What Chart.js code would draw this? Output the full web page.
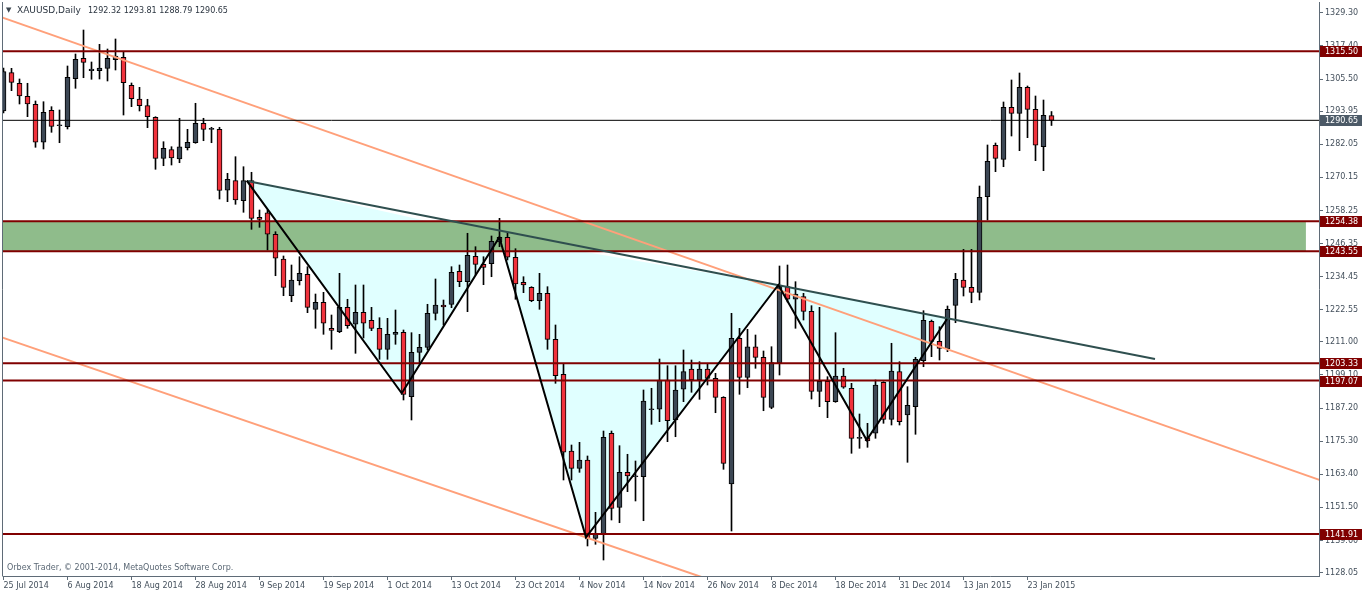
<!DOCTYPE html>
<html>
<head>
<meta charset="utf-8">
<title>XAUUSD Daily</title>
<script src="https://cdn.jsdelivr.net/npm/chart.js@4.4.1/dist/chart.umd.min.js"></script>
<style>
  body { margin: 0; background: #fff; }
  #wrap { position: relative; width: 1362px; height: 594px; overflow: hidden; }
  .txt { position: absolute; font-family: "DejaVu Sans", sans-serif; white-space: pre; line-height: 1; }
</style>
</head>
<body>
<div id="wrap">
  <canvas id="chart" width="1362" height="594"></canvas>
  <div class="txt" style="left:6px; top:7px; font-size:7px; color:#3c4650;">▼</div>
  <div class="txt" style="left:17px; top:6px; font-size:9px; color:#2b3540;">XAUUSD,Daily</div>
  <div class="txt" style="left:88px; top:7px; font-size:8px; color:#2b3540;">1292.32 1293.81 1288.79 1290.65</div>
  <div class="txt" style="left:7px; top:564px; font-size:8px; color:#5b6875;">Orbex Trader, © 2001-2014, MetaQuotes Software Corp.</div>
</div>
<script>
// daily candles, 25 Jul 2014 .. 28 Jan 2015 (bar index 0..131)
const opens = [
  1294.00, 1307.77, 1303.96, 1299.29, 1296.41, 1282.75, 1294.25, 1288.71, 1288.35, 1305.61,
  1312.95, 1308.49, 1308.49, 1309.35, 1312.44, 1313.31, 1303.24, 1298.31, 1295.91, 1291.73,
  1276.99, 1280.09, 1276.74, 1280.81, 1282.60, 1289.58, 1287.42, 1287.42, 1265.49, 1268.94,
  1261.75, 1268.94, 1255.78, 1257.43, 1249.67, 1240.79, 1227.59, 1232.98, 1235.28, 1222.70,
  1225.22, 1215.87, 1214.65, 1223.42, 1217.31, 1221.62, 1218.75, 1215.87, 1208.32, 1213.71,
  1214.43, 1191.28, 1207.24, 1209.04, 1221.26, 1224.25, 1224.50, 1236.36, 1232.63, 1241.76,
  1238.88, 1239.10, 1246.90, 1248.59, 1241.40, 1232.41, 1230.61, 1225.79, 1228.45, 1211.91,
  1199.33, 1171.75, 1165.53, 1168.52, 1140.36, 1141.80, 1178.12, 1151.51, 1164.09, 1162.51,
  1162.51, 1186.60, 1186.75, 1197.28, 1182.90, 1193.94, 1201.24, 1197.28, 1201.24, 1197.89,
  1191.06, 1159.89, 1212.27, 1198.25, 1209.25, 1205.44, 1187.39, 1203.29, 1230.83, 1226.30,
  1227.23, 1221.98, 1193.22, 1196.81, 1189.48, 1198.72, 1194.30, 1176.32, 1176.54, 1178.12,
  1196.45, 1183.15, 1200.27, 1184.70, 1187.68, 1204.22, 1218.39, 1211.19, 1208.54, 1224.14,
  1233.24, 1230.61, 1228.81, 1263.19, 1281.67, 1276.63, 1295.33, 1293.17, 1302.52, 1294.61,
  1281.16, 1292.32
];
const highs = [
  1309.46, 1309.35, 1305.51, 1303.96, 1297.60, 1297.34, 1295.55, 1294.36, 1310.18, 1314.49,
  1323.12, 1311.62, 1317.98, 1316.29, 1319.89, 1315.32, 1304.07, 1302.52, 1298.21, 1291.95,
  1282.96, 1281.16, 1291.38, 1287.42, 1296.77, 1291.38, 1288.14, 1288.14, 1271.60, 1277.57,
  1273.97, 1271.96, 1258.40, 1258.40, 1250.60, 1241.87, 1238.63, 1241.61, 1238.02, 1228.20,
  1228.81, 1220.65, 1235.64, 1226.30, 1231.44, 1231.44, 1223.42, 1219.68, 1219.46, 1222.45,
  1215.26, 1214.29, 1213.71, 1224.50, 1233.60, 1226.04, 1238.02, 1238.63, 1250.03, 1245.21,
  1241.61, 1249.06, 1255.42, 1250.24, 1244.49, 1234.42, 1230.83, 1235.64, 1230.83, 1217.06,
  1203.29, 1173.91, 1174.88, 1169.96, 1149.71, 1178.94, 1178.94, 1173.66, 1170.57, 1168.16,
  1193.69, 1194.30, 1204.83, 1202.42, 1202.42, 1208.07, 1204.47, 1203.86, 1203.29, 1199.69,
  1191.28, 1221.26, 1215.87, 1215.51, 1213.46, 1207.71, 1209.25, 1238.27, 1238.63, 1232.63,
  1228.45, 1224.00, 1223.42, 1198.47, 1214.29, 1201.49, 1196.09, 1185.06, 1181.71, 1197.28,
  1196.67, 1210.48, 1203.86, 1194.87, 1205.44, 1222.20, 1218.85, 1216.45, 1223.89, 1235.64,
  1244.27, 1244.27, 1267.03, 1281.78, 1282.49, 1297.24, 1305.15, 1307.66, 1302.99, 1299.39,
  1297.95, 1293.81
];
const lows = [
  1293.28, 1301.30, 1296.52, 1291.95, 1280.95, 1280.34, 1286.34, 1282.60, 1287.53, 1302.16,
  1305.97, 1305.40, 1305.51, 1304.79, 1308.74, 1292.56, 1295.55, 1294.00, 1288.00, 1273.04,
  1274.33, 1274.58, 1275.41, 1279.98, 1282.39, 1283.32, 1282.60, 1262.36, 1261.39, 1260.45,
  1257.58, 1251.46, 1252.18, 1244.02, 1234.78, 1227.59, 1225.43, 1231.44, 1221.48, 1215.87,
  1213.71, 1208.32, 1214.29, 1215.87, 1206.88, 1212.38, 1215.01, 1204.72, 1204.72, 1210.12,
  1190.09, 1182.90, 1203.29, 1208.07, 1218.85, 1217.06, 1223.28, 1230.83, 1221.84, 1235.03,
  1231.55, 1234.42, 1245.21, 1240.43, 1226.30, 1228.67, 1225.43, 1222.70, 1208.32, 1196.09,
  1161.33, 1161.33, 1164.09, 1137.60, 1138.21, 1132.56, 1146.94, 1145.97, 1157.12, 1153.78,
  1146.69, 1181.35, 1182.29, 1175.10, 1176.89, 1189.48, 1192.86, 1190.34, 1195.48, 1185.52,
  1165.17, 1142.99, 1192.14, 1194.51, 1201.49, 1186.24, 1186.96, 1199.08, 1225.33, 1215.87,
  1218.85, 1190.45, 1187.68, 1183.73, 1189.26, 1194.30, 1170.93, 1172.72, 1173.08, 1176.32,
  1181.71, 1181.10, 1181.10, 1167.69, 1177.76, 1202.06, 1205.66, 1204.47, 1207.46, 1217.88,
  1227.48, 1225.07, 1226.04, 1254.81, 1272.18, 1273.97, 1285.01, 1279.73, 1284.40, 1276.13,
  1272.54, 1288.79
];
const closes = [
  1308.13, 1304.32, 1299.39, 1296.52, 1282.75, 1293.53, 1288.50, 1288.86, 1306.12, 1312.59,
  1311.51, 1309.10, 1309.46, 1312.95, 1313.78, 1304.18, 1298.42, 1295.91, 1291.95, 1276.99,
  1280.59, 1277.10, 1281.16, 1282.75, 1289.58, 1287.42, 1287.53, 1265.42, 1269.44, 1262.00,
  1268.94, 1255.42, 1255.06, 1249.67, 1241.04, 1230.61, 1233.24, 1235.64, 1223.42, 1225.22,
  1217.67, 1215.15, 1223.42, 1216.81, 1221.62, 1217.67, 1215.87, 1208.32, 1213.71, 1214.43,
  1192.14, 1207.24, 1209.04, 1221.26, 1224.25, 1223.53, 1236.00, 1232.63, 1242.12, 1238.88,
  1237.80, 1247.15, 1248.59, 1241.40, 1231.80, 1231.44, 1225.79, 1228.45, 1211.91, 1198.83,
  1171.29, 1165.53, 1168.52, 1140.36, 1141.80, 1176.68, 1151.15, 1164.09, 1162.76, 1162.66,
  1189.73, 1186.75, 1197.28, 1182.65, 1193.69, 1200.27, 1197.28, 1201.24, 1197.89, 1191.06,
  1167.33, 1212.27, 1198.25, 1209.25, 1205.44, 1191.06, 1203.57, 1231.08, 1226.30, 1228.20,
  1221.98, 1193.22, 1196.81, 1189.48, 1198.72, 1194.66, 1176.32, 1176.43, 1175.35, 1195.48,
  1183.15, 1200.52, 1182.29, 1188.19, 1204.72, 1218.75, 1211.19, 1208.68, 1222.70, 1233.49,
  1230.61, 1228.81, 1262.97, 1275.91, 1276.99, 1295.33, 1293.17, 1302.52, 1294.61, 1281.67,
  1292.45, 1290.65
];

// axis labels (one date label every 8 bars)
const dateTicks = ["25 Jul 2014", "6 Aug 2014", "18 Aug 2014", "28 Aug 2014", "9 Sep 2014",
  "19 Sep 2014", "1 Oct 2014", "13 Oct 2014", "23 Oct 2014", "4 Nov 2014", "14 Nov 2014",
  "26 Nov 2014", "8 Dec 2014", "18 Dec 2014", "31 Dec 2014", "13 Jan 2015", "23 Jan 2015"];
const priceTicks = [1329.30, 1317.40, 1305.50, 1293.95, 1282.05, 1270.15, 1258.25, 1246.35,
  1234.45, 1222.55, 1211.00, 1199.10, 1187.20, 1175.30, 1163.40, 1151.50, 1139.60, 1128.05];

// drawn objects
const levels = [1315.50, 1254.38, 1243.55, 1203.33, 1197.07, 1141.91];
const lastPrice = 1290.65;
const zone = [1254.38, 1243.55];
const zoneEnd = 162.8;
const channelUpper = [[-1, 1328.47], [165, 1160.86]];
const channelLower = [[-1, 1213.39], [95, 1118.83]];
const neckline = [[30.44, 1268.83], [143.94, 1204.83]];
const zigzag = [[30.40, 1268.94], [49.78, 1192.50], [61.98, 1248.59], [72.81, 1140.72],
  [96.85, 1231.44], [107.90, 1175.71], [117.94, 1219.21]];

const bullColor = "#3c4754";
const bearColor = "#f0323c";
const frameColor = "#5f6b77";
const textColor = "#44505c";
const tickFont = { family: "DejaVu Sans", size: 8 };

const idx = opens.map((_, i) => i);
const isBull = idx.map(i => closes[i] >= opens[i]);
const pts = arr => arr.map(p => ({ x: p[0], y: p[1] }));
const hline = (y, x0, x1) => [{ x: x0, y: y }, { x: x1, y: y }];

const lineDs = (data, color, width, order) => ({
  type: "line", data: data, borderColor: color, borderWidth: width,
  pointRadius: 0, pointHoverRadius: 0, fill: false, tension: 0, order: order
});

const datasets = [
  // 0: cyan triangles (top edges), filled down to the zigzag
  {
    type: "line", data: pts(zigzag.filter((_, k) => k % 2 === 0)),
    borderWidth: 0, pointRadius: 0, backgroundColor: "#e0ffff", fill: 1, order: 20
  },
  // 1: zigzag
  lineDs(pts(zigzag), "#000000", 2, 1),
  // 2,3: green zone
  { type: "line", data: hline(zone[0], -1, zoneEnd), borderWidth: 0, pointRadius: 0, fill: false, order: 15 },
  { type: "line", data: hline(zone[1], -1, zoneEnd), borderWidth: 0, pointRadius: 0,
    backgroundColor: "#8fbc8b", fill: 2, order: 15 },
  // 4: wicks
  {
    type: "bar", data: idx.map(i => ({ x: i, y: [lows[i], highs[i]] })),
    backgroundColor: "#000000", borderWidth: 0, barThickness: 1, maxBarThickness: 1,
    grouped: false, order: 7
  },
  // 5: bodies
  {
    type: "bar", data: idx.map(i => ({ x: i, y: [opens[i], closes[i]] })),
    backgroundColor: idx.map(i => isBull[i] ? bullColor : bearColor),
    borderColor: "#000000", borderWidth: 1, borderSkipped: false,
    barThickness: 5, maxBarThickness: 5, minBarLength: 1, grouped: false, order: 6
  },
  lineDs(pts(channelUpper), "#ffa07a", 2, 4),
  lineDs(pts(channelLower), "#ffa07a", 2, 4),
  lineDs(hline(lastPrice, -1, 166), "#000000", 1, 3),
  ...levels.map(v => lineDs(hline(v, -1, 166), "#800000", 2, 3)),
  lineDs(pts(neckline), "#2f4f4f", 2, 2)
];

const framePlugin = {
  id: "frame",
  afterDraw(chart) {
    const ctx = chart.ctx;
    const a = chart.chartArea;
    const y = chart.scales.y;
    ctx.save();
    ctx.strokeStyle = frameColor;
    ctx.lineWidth = 1;
    ctx.beginPath();
    ctx.moveTo(2.5, a.top);
    ctx.lineTo(2.5, a.bottom + 0.5);
    ctx.stroke();
    // price labels on the scale
    ctx.font = "8px 'DejaVu Sans'";
    ctx.textBaseline = "middle";
    const tags = levels.map(v => [v, "#800000"]).concat([[lastPrice, "#4c5a67"]]);
    tags.forEach(([v, c]) => {
      const py = Math.round(y.getPixelForValue(v));
      ctx.fillStyle = c;
      ctx.fillRect(1320, py - 5, 42, 11);
      ctx.fillStyle = "#ffffff";
      ctx.fillText(v.toFixed(2), 1325, py + 0.5);
    });
    ctx.restore();
  }
};

new Chart(document.getElementById("chart"), {
  type: "bar",
  data: { datasets: datasets },
  plugins: [framePlugin],
  options: {
    responsive: false,
    animation: false,
    devicePixelRatio: 1,
    events: [],
    layout: { padding: { left: 3, top: 2, right: 0, bottom: 0 } },
    plugins: { legend: { display: false }, tooltip: { enabled: false } },
    scales: {
      x: {
        type: "linear", position: "bottom", offset: false,
        min: -0.0625, max: 164.4375,
        grid: { drawOnChartArea: false, drawTicks: true, tickLength: 4, color: frameColor, offset: false },
        border: { display: true, color: frameColor, width: 1 },
        ticks: {
          autoSkip: false, maxRotation: 0, minRotation: 0, align: "start", padding: 1,
          color: textColor, font: tickFont,
          callback: v => dateTicks[v / 8]
        },
        afterBuildTicks: s => { s.ticks = dateTicks.map((_, k) => ({ value: k * 8 })); },
        afterFit: s => { s.height = 18; s.paddingLeft = 0; s.paddingRight = 0; }
      },
      y: {
        type: "linear", position: "right", beginAtZero: false,
        min: 1126.81, max: 1333.19,
        grid: { drawOnChartArea: false, drawTicks: true, tickLength: 4, color: frameColor },
        border: { display: true, color: frameColor, width: 1 },
        ticks: {
          autoSkip: false, padding: 2, crossAlign: "near",
          color: textColor, font: tickFont,
          callback: v => v.toFixed(2)
        },
        afterBuildTicks: s => { s.ticks = priceTicks.map(v => ({ value: v })); },
        afterFit: s => { s.width = 43; s.paddingTop = 0; s.paddingBottom = 0; }
      }
    }
  }
});
</script>
</body>
</html>
